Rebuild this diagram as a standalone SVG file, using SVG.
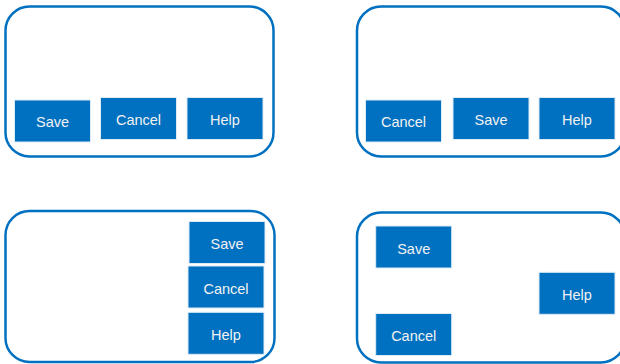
<svg xmlns="http://www.w3.org/2000/svg" width="620" height="364" viewBox="0 0 620 364">
  <style>
    .panel { fill: #ffffff; stroke: #0070C0; stroke-width: 2.5; }
    .btn { fill: #0070C0; stroke: #DDEBF7; stroke-width: 1; }
    .lbl { font-family: "Liberation Sans", Arial, sans-serif; font-size: 14.5px; fill: #F2F2F2; text-anchor: middle; }
  </style>
  <rect width="620" height="364" fill="#ffffff"/>

  <!-- Layout A: Save, Cancel, Help along the bottom -->
  <g id="layout-a">
    <rect class="panel" x="5.5" y="6.5" width="268" height="150" rx="24"/>
    <g id="a-save"><rect class="btn" x="14.5" y="100" width="76" height="42"/><text class="lbl" x="52.5" y="127">Save</text></g>
    <g id="a-cancel"><rect class="btn" x="100.5" y="97.5" width="76" height="42"/><text class="lbl" x="138.5" y="125">Cancel</text></g>
    <g id="a-help"><rect class="btn" x="187" y="97.5" width="76" height="42"/><text class="lbl" x="225" y="125">Help</text></g>
  </g>

  <!-- Layout B: Cancel, Save, Help along the bottom -->
  <g id="layout-b">
    <rect class="panel" x="357" y="6.5" width="268" height="150" rx="24"/>
    <g id="b-cancel"><rect class="btn" x="365.5" y="100" width="76" height="42"/><text class="lbl" x="403.5" y="127">Cancel</text></g>
    <g id="b-save"><rect class="btn" x="453" y="97.5" width="76" height="42"/><text class="lbl" x="491" y="125">Save</text></g>
    <g id="b-help"><rect class="btn" x="539" y="97.5" width="76" height="42"/><text class="lbl" x="577" y="125">Help</text></g>
  </g>

  <!-- Layout C: buttons stacked on the right -->
  <g id="layout-c">
    <rect class="panel" x="5.5" y="211" width="269" height="151" rx="24"/>
    <g id="c-save"><rect class="btn" x="189" y="221.5" width="76" height="42"/><text class="lbl" x="227" y="249">Save</text></g>
    <g id="c-cancel"><rect class="btn" x="188" y="266" width="76" height="42"/><text class="lbl" x="226" y="293.5">Cancel</text></g>
    <g id="c-help"><rect class="btn" x="188" y="312.3" width="76" height="42"/><text class="lbl" x="226" y="340">Help</text></g>
  </g>

  <!-- Layout D: scattered buttons -->
  <g id="layout-d">
    <rect class="panel" x="357" y="212.5" width="268" height="150" rx="24"/>
    <g id="d-save"><rect class="btn" x="375.7" y="226" width="76" height="42"/><text class="lbl" x="413.7" y="253.5">Save</text></g>
    <g id="d-help"><rect class="btn" x="539" y="272.3" width="76" height="42"/><text class="lbl" x="577" y="300">Help</text></g>
    <g id="d-cancel"><rect class="btn" x="375.7" y="313.5" width="76" height="42"/><text class="lbl" x="413.7" y="341">Cancel</text></g>
  </g>
</svg>
